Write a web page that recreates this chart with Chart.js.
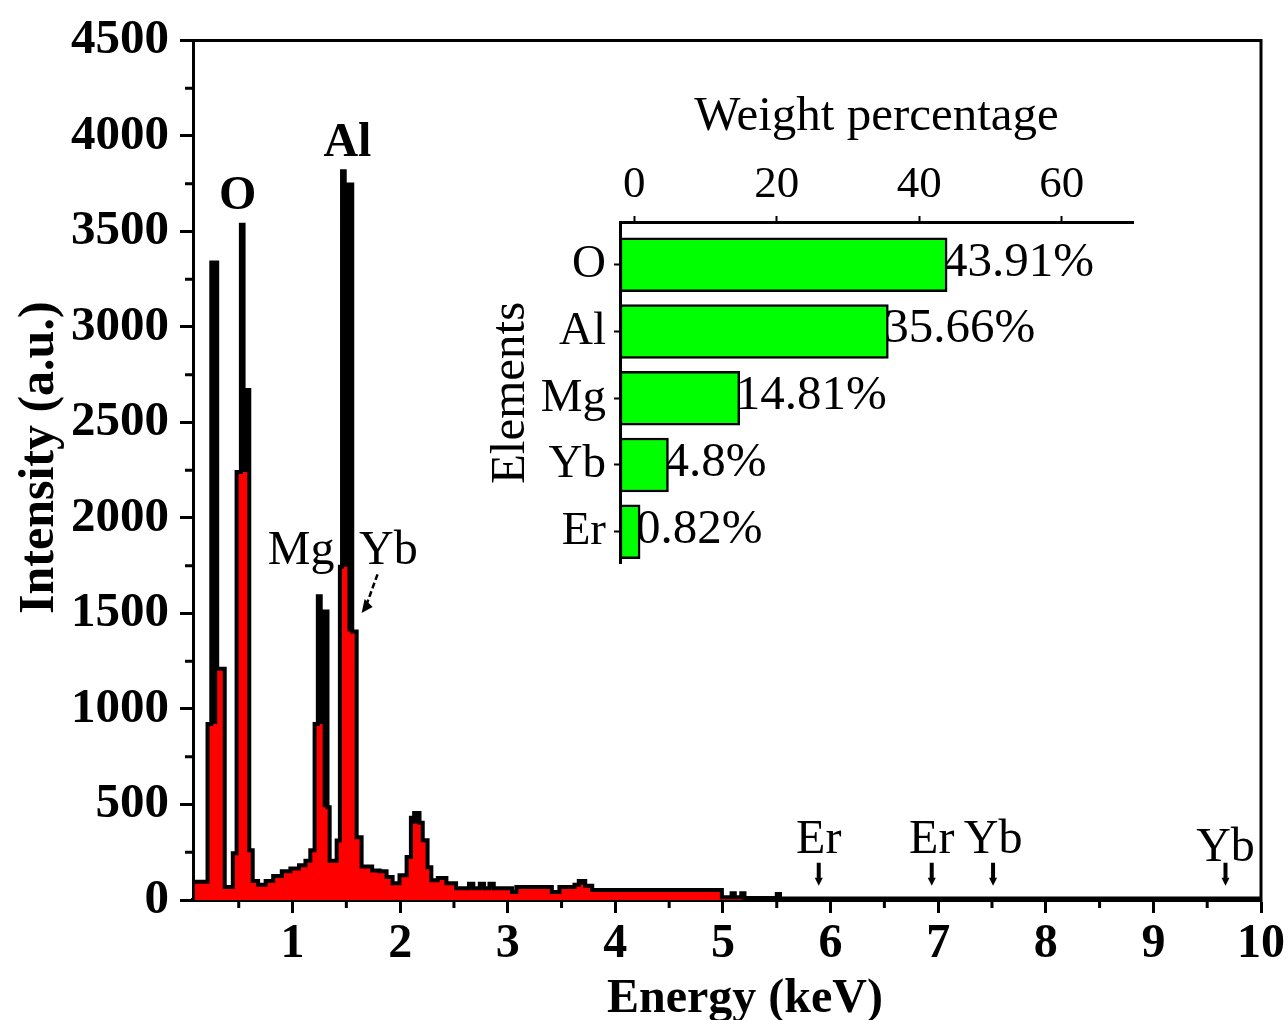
<!DOCTYPE html>
<html>
<head>
<meta charset="utf-8">
<title>EDS spectrum</title>
<script src="https://cdn.jsdelivr.net/npm/chart.js@4.4.1/dist/chart.umd.min.js"></script>
<style>
  html, body { margin: 0; padding: 0; background: #fff; }
  #wrap { position: relative; width: 1288px; height: 1020px; overflow: hidden; }
  #eds { position: absolute; left: 0; top: 0; }
  #inset { position: absolute; left: 450px; top: 60px; }
</style>
</head>
<body>
<div id="wrap">
  <canvas id="eds" width="1288" height="1020"></canvas>
  <canvas id="inset" width="720" height="540"></canvas>
</div>
<script>
// spectrum bins: start energy (keV), red area counts, black trace counts
const energy = [
  0.09, 0.21, 0.245, 0.30, 0.37, 0.445, 0.48, 0.52, 0.545, 0.585,
  0.598, 0.63, 0.68, 0.75, 0.82, 0.90, 0.98, 1.06, 1.12, 1.165,
  1.205, 1.235, 1.262, 1.28, 1.325, 1.345, 1.41, 1.44, 1.46, 1.485,
  1.51, 1.555, 1.596, 1.642, 1.74, 1.81, 1.874, 1.93, 1.994, 2.06,
  2.10, 2.13, 2.18, 2.21, 2.255, 2.29, 2.35, 2.43, 2.52, 2.64,
  2.68, 2.74, 2.78, 2.83, 2.87, 3.04, 3.08, 3.41, 3.48, 3.62,
  3.66, 3.72, 3.785, 4.99, 5.08, 5.11, 5.17, 5.20, 5.50, 5.53,
  10.0
];
const areaCounts = [
  95, 922, 922, 1210, 68, 245, 2240, 2240, 2240, 260,
  260, 100, 80, 100, 125, 150, 165, 182, 205, 260,
  922, 922, 922, 485, 485, 205, 312, 1745, 1745, 1745,
  1405, 1405, 328, 175, 155, 150, 120, 88, 130, 225,
  400, 400, 400, 313, 172, 104, 115, 88, 62, 62,
  62, 62, 62, 62, 62, 42, 68, 42, 68, 80,
  80, 75, 45, 15, 15, 15, 15, 10, 10, 8,
  8
];
const lineCounts = [
  95, 922, 3337, 1210, 68, 245, 2240, 3535, 2670, 2670,
  260, 100, 80, 100, 125, 150, 165, 182, 205, 260,
  922, 1590, 1510, 1510, 485, 205, 312, 1745, 3815, 3745,
  3745, 1405, 328, 175, 155, 150, 120, 88, 130, 225,
  430, 455, 405, 313, 172, 104, 115, 88, 62, 85,
  62, 85, 62, 85, 62, 42, 68, 42, 68, 80,
  100, 75, 52, 15, 35, 15, 35, 10, 32, 8,
  8
];

const xTicks = [1, 2, 3, 4, 5, 6, 7, 8, 9, 10];
const xMinorTicks = [0.5, 1.5, 2.5, 3.5, 4.5, 5.5, 6.5, 7.5, 8.5, 9.5];
const yTicks = [0, 500, 1000, 1500, 2000, 2500, 3000, 3500, 4000, 4500];
const yMinorTicks = [250, 750, 1250, 1750, 2250, 2750, 3250, 3750, 4250];

// peak assignments over the strong lines
const peakNames = ['O', 'Al', 'Mg', 'Yb'];
const peakKeV = [0.49, 1.51, 1.08, 1.89];
const peakLabelCounts = [3680, 3960, 1825, 1825];
const peakBold = [true, true, false, false];

// weak L lines marked with small arrows
const weakNames = ['Er', 'Er', 'Yb', 'Yb'];
const weakKeV = [5.89, 6.94, 7.51, 9.67];
const weakLabelCounts = [313, 313, 313, 271];

// inset: weight percentage per element
const elements = ['O', 'Al', 'Mg', 'Yb', 'Er'];
const weightPct = [43.91, 35.66, 14.81, 4.8, 0.82];
const pctTicks = [0, 20, 40, 60];

Chart.defaults.font.family = "'Liberation Serif', 'Times New Roman', serif";
Chart.defaults.color = '#000';

const toPoints = ys => energy.map((e, i) => ({ x: e, y: ys[i] }));

// 1. box, minor ticks and line labels on the spectrum
const spectrumDecor = {
  id: 'spectrumDecor',
  afterDraw(chart) {
    const { ctx, chartArea: a, scales: { x, y } } = chart;
    ctx.save();
    ctx.strokeStyle = '#000';
    ctx.fillStyle = '#000';
    ctx.lineWidth = 3;
    ctx.beginPath();
    ctx.moveTo(a.left, a.top);
    ctx.lineTo(a.right, a.top);
    ctx.lineTo(a.right, a.bottom + 2);
    ctx.stroke();

    ctx.beginPath();
    xMinorTicks.forEach(v => {
      const px = x.getPixelForValue(v);
      ctx.moveTo(px, a.bottom);
      ctx.lineTo(px, a.bottom + 8);
    });
    yMinorTicks.forEach(v => {
      const py = y.getPixelForValue(v);
      ctx.moveTo(a.left, py);
      ctx.lineTo(a.left - 8, py);
    });
    ctx.stroke();

    ctx.textAlign = 'center';
    ctx.textBaseline = 'middle';
    peakNames.forEach((name, i) => {
      ctx.font = (peakBold[i] ? 'bold ' : '') + "48px 'Liberation Serif', serif";
      ctx.fillText(name, x.getPixelForValue(peakKeV[i]), y.getPixelForValue(peakLabelCounts[i]));
    });

    // small arrow from the Yb label down to the shoulder of the Al peak
    const ax0 = x.getPixelForValue(1.79), ay0 = y.getPixelForValue(1705);
    const ax1 = x.getPixelForValue(1.642), ay1 = y.getPixelForValue(1502);
    ctx.lineWidth = 2.5;
    ctx.setLineDash([6, 3]);
    ctx.beginPath();
    ctx.moveTo(ax0, ay0);
    ctx.lineTo(ax1 + 4, ay1 - 6);
    ctx.stroke();
    ctx.setLineDash([]);
    ctx.beginPath();
    ctx.moveTo(ax1, ay1);
    ctx.lineTo(ax1 + 11, ay1 - 6);
    ctx.lineTo(ax1 + 3, ay1 - 14);
    ctx.closePath();
    ctx.fill();

    ctx.font = "48px 'Liberation Serif', serif";
    weakNames.forEach((name, i) => {
      const px = x.getPixelForValue(weakKeV[i]);
      ctx.fillText(name, px, y.getPixelForValue(weakLabelCounts[i]));
      const top = y.getPixelForValue(195), tip = y.getPixelForValue(75);
      ctx.lineWidth = 4;
      ctx.beginPath();
      ctx.moveTo(px, top);
      ctx.lineTo(px, tip - 6);
      ctx.stroke();
      ctx.beginPath();
      ctx.moveTo(px - 4, tip - 8);
      ctx.lineTo(px + 4, tip - 8);
      ctx.lineTo(px, tip);
      ctx.closePath();
      ctx.fill();
    });
    ctx.restore();
  }
};

// 2. the spectrum: black trace filled underneath, red area over it, black outline on top
new Chart(document.getElementById('eds'), {
  type: 'line',
  data: {
    datasets: [
      {
        data: toPoints(lineCounts), stepped: 'before', order: 0,
        borderColor: '#000', borderWidth: 4, fill: false,
        pointRadius: 0, pointHitRadius: 0
      },
      {
        data: toPoints(areaCounts), stepped: 'before', order: 1,
        borderColor: 'rgba(0,0,0,0)', borderWidth: 0,
        fill: 'origin', backgroundColor: '#ff0000',
        pointRadius: 0, pointHitRadius: 0
      },
      {
        data: toPoints(lineCounts), stepped: 'before', order: 2,
        borderColor: 'rgba(0,0,0,0)', borderWidth: 0,
        fill: 'origin', backgroundColor: '#000',
        pointRadius: 0, pointHitRadius: 0
      }
    ]
  },
  options: {
    responsive: false,
    animation: false,
    devicePixelRatio: 1,
    layout: { padding: { left: 0, right: 25, top: 37, bottom: 0 } },
    plugins: { legend: { display: false }, tooltip: { enabled: false } },
    scales: {
      x: {
        type: 'linear', min: 0.075, max: 10,
        afterBuildTicks: s => { s.ticks = xTicks.map(v => ({ value: v })); },
        afterFit: s => { s.height = 120; },
        grid: { drawOnChartArea: false, tickLength: 13, tickWidth: 3, tickColor: '#000' },
        border: { color: '#000', width: 4 },
        ticks: { font: { size: 48, weight: 'bold' }, padding: 3, maxRotation: 0, autoSkip: false, callback: v => String(v) },
        title: { display: true, text: '   Energy (keV)', font: { size: 48, weight: 'bold' }, padding: { top: 0, bottom: -8 } }
      },
      y: {
        min: 0, max: 4500,
        afterBuildTicks: s => { s.ticks = yTicks.map(v => ({ value: v })); },
        afterFit: s => { s.width = 193; },
        grid: { drawOnChartArea: false, tickLength: 13, tickWidth: 3, tickColor: '#000' },
        border: { color: '#000', width: 3 },
        ticks: { font: { size: 49, weight: 'bold' }, padding: 11, callback: v => String(v) },
        title: { display: true, text: '  Intensity (a.u.)', font: { size: 50, weight: 'bold' }, padding: { top: 10 } }
      }
    }
  },
  plugins: [spectrumDecor]
});

// 3. value labels beside the inset bars
const barValues = {
  id: 'barValues',
  beforeDatasetsDraw(chart) {
    const { ctx } = chart;
    const bars = chart.getDatasetMeta(0).data;
    ctx.save();
    ctx.font = "49px 'Liberation Serif', serif";
    ctx.fillStyle = '#000';
    ctx.textAlign = 'left';
    ctx.textBaseline = 'middle';
    bars.forEach((bar, i) => ctx.fillText(weightPct[i] + '%', bar.x - 4, bar.y - 2));
    ctx.restore();
  }
};

// 4. inset bar chart of the composition
new Chart(document.getElementById('inset'), {
  type: 'bar',
  data: {
    datasets: [{
      data: weightPct.map((v, i) => ({ x: v, y: i })),
      base: -2,
      backgroundColor: '#00ff00',
      borderColor: '#000',
      borderWidth: 2.5,
      borderSkipped: false,
      barThickness: 54
    }]
  },
  options: {
    indexAxis: 'y',
    responsive: false,
    animation: false,
    devicePixelRatio: 1,
    layout: { padding: { left: 0, right: 37, top: 0, bottom: 32 } },
    plugins: { legend: { display: false }, tooltip: { enabled: false } },
    scales: {
      x: {
        type: 'linear', position: 'top', min: -2, max: 70,
        afterBuildTicks: s => { s.ticks = pctTicks.map(v => ({ value: v })); },
        afterFit: s => { s.height = 162; },
        grid: { drawOnChartArea: false, tickLength: 6, tickWidth: 2, tickColor: '#000' },
        border: { color: '#000', width: 3 },
        ticks: { font: { size: 45 }, padding: 4, maxRotation: 0 },
        title: { display: true, text: 'Weight percentage', font: { size: 49 }, padding: { top: 28 } }
      },
      y: {
        type: 'linear', reverse: true, min: -0.64, max: 4.48, offset: false,
        afterBuildTicks: s => { s.ticks = elements.map((_, i) => ({ value: i })); },
        afterFit: s => { s.width = 170; },
        grid: { drawOnChartArea: false, offset: false, tickLength: 6, tickWidth: 2, tickColor: '#000' },
        border: { color: '#000', width: 3 },
        ticks: { font: { size: 47 }, padding: 8, callback: v => elements[v] },
        title: { display: true, text: 'Elements', font: { size: 49 }, padding: { top: 32 } }
      }
    }
  },
  plugins: [barValues]
});
</script>
</body>
</html>
